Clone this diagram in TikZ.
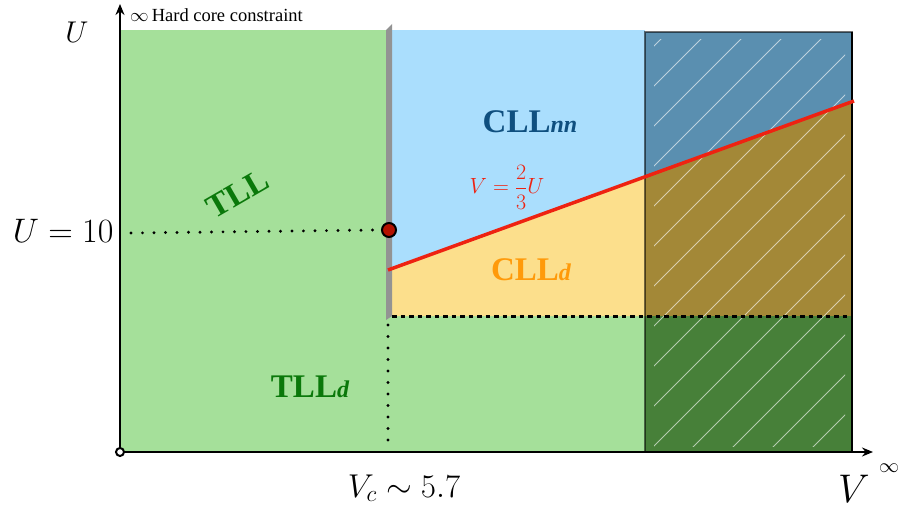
\RequirePackage{fix-cm}
\documentclass[tikz,border=0pt]{standalone}
\usepackage{fontspec}
\newfontfamily\tnr{Liberation Serif}
\usetikzlibrary{arrows.meta}
\definecolor{lgreen}{RGB}{165,224,154}
\definecolor{lblue}{RGB}{170,222,253}
\definecolor{lyellow}{RGB}{252,223,140}
\definecolor{dblue}{RGB}{90,143,176}
\definecolor{dbrown}{RGB}{163,136,55}
\definecolor{dgreen}{RGB}{71,128,57}
\definecolor{tllgreen}{RGB}{10,120,10}
\definecolor{cllblue}{RGB}{15,79,127}
\definecolor{cllorange}{RGB}{255,154,10}
\definecolor{redline}{RGB}{238,34,17}
\definecolor{dotred}{RGB}{180,18,0}
\tikzset{
  axis/.style={line width=2.4pt,-{Stealth[length=11pt,width=9pt]}},
  phase/.style={font=\tnr\fontsize{33}{38}\selectfont\bfseries},
  dots/.style={line width=3.2pt,line cap=round,dash pattern=on 0pt off 11.5pt},
  sqdots/.style={line width=3pt,dash pattern=on 4.5pt off 4pt},
  hatch/.style={white,opacity=0.6,line width=0.8pt},
  biglabel/.style={font=\fontsize{34}{40}\selectfont}
}
\begin{document}
\begin{tikzpicture}[x=1pt,y=-1pt]
\useasboundingbox (0,0) rectangle (901,510);
% regions
\fill[lgreen] (120,30) rectangle (645,452);
\fill[lblue] (392,30) rectangle (645,316);
\fill[lyellow] (392,316) -- (392,268.5) -- (645,176.4) -- (645,316) -- cycle;
% dark hatched region
\fill[dblue] (645,32) rectangle (852,316);
\fill[dbrown] (645,316) -- (645,176.4) -- (852,101) -- (852,316) -- cycle;
\fill[dgreen] (645,316) rectangle (852,452);
\begin{scope}
  \clip (654,40) rectangle (845,446);
  \foreach \c in {700,740,...,1300} {
    \draw[hatch] (\c-460,460) -- (\c-20,20);
  }
\end{scope}
\draw[black,opacity=0.55,line width=1.5pt] (645,32) rectangle (852,452);
\draw[black,line width=1.5pt] (852,32) -- (852,452);
% gray bar
\fill[gray!85] (386,320) -- (392,316) -- (392,24) -- (386,30) -- cycle;
% dotted lines
\coordinate (d1a) at (392,316);
\coordinate (d1b) at (852,316);
\draw[sqdots] (d1a) -- (d1b);
\coordinate (u10) at (131,233);
% critical point
\node[circle,draw=black,line width=2pt,fill=dotred,minimum size=14pt,inner sep=0pt] (cp) at (389,230) {};
\draw[dots] (u10) -- ([xshift=-4pt]cp.west);
\coordinate (vtop) at (388,325);
\coordinate (vbot) at (388,445);
\draw[dots] (vtop) -- (vbot);
% red line
\coordinate (ra) at (388,270);
\coordinate (rb) at (854,101);
\draw[redline,line width=3.5pt] (ra) -- (rb);
% axes
\coordinate (o) at (120,452);
\coordinate (ytip) at (120,4);
\coordinate (xtip) at (873,452);
\draw[axis] (o) -- (ytip);
\draw[axis] (o) -- (xtip);
\node[circle,draw=black,line width=2pt,fill=white,minimum size=8pt,inner sep=0pt] (orig) at (o) {};
% labels
\node[font=\fontsize{30}{36}\selectfont] (ulab) at (77,32) {$U$};
\node[biglabel,anchor=base east] (u10lab) at (117,243) {$U=10$};
\node[font=\fontsize{33}{38}\selectfont,anchor=base] (vclab) at (404,497) {$V_c\sim5.7$};
\node[font=\fontsize{40}{46}\selectfont,anchor=base] (vlab) at (854,502) {$V$};
\node[font=\fontsize{20}{24}\selectfont] (inf) at (889,468) {$\infty$};
\node[anchor=base west,inner sep=0pt] (hc) at (130,22) {\fontsize{18.5}{22}\selectfont$\infty$\,\tnr Hard core constraint};
\node[phase,text=tllgreen,rotate=30] (tll) at (238,194) {TLL};
\node[phase,text=cllblue,anchor=base] (cllnn) at (530,133) {CLL{\fontsize{24}{28}\selectfont\itshape nn}};
\node[phase,text=cllorange,anchor=base] (clld) at (531,280) {CLL{\fontsize{24}{28}\selectfont\itshape d}};
\node[phase,text=tllgreen,anchor=base] (tlld) at (310,397) {TLL{\fontsize{24}{28}\selectfont\itshape d}};
\node[text=redline,font=\fontsize{22}{26}\selectfont] (eq) at (507,187) {$\displaystyle V=\frac{2}{3}U$};
\end{tikzpicture}
\end{document}
